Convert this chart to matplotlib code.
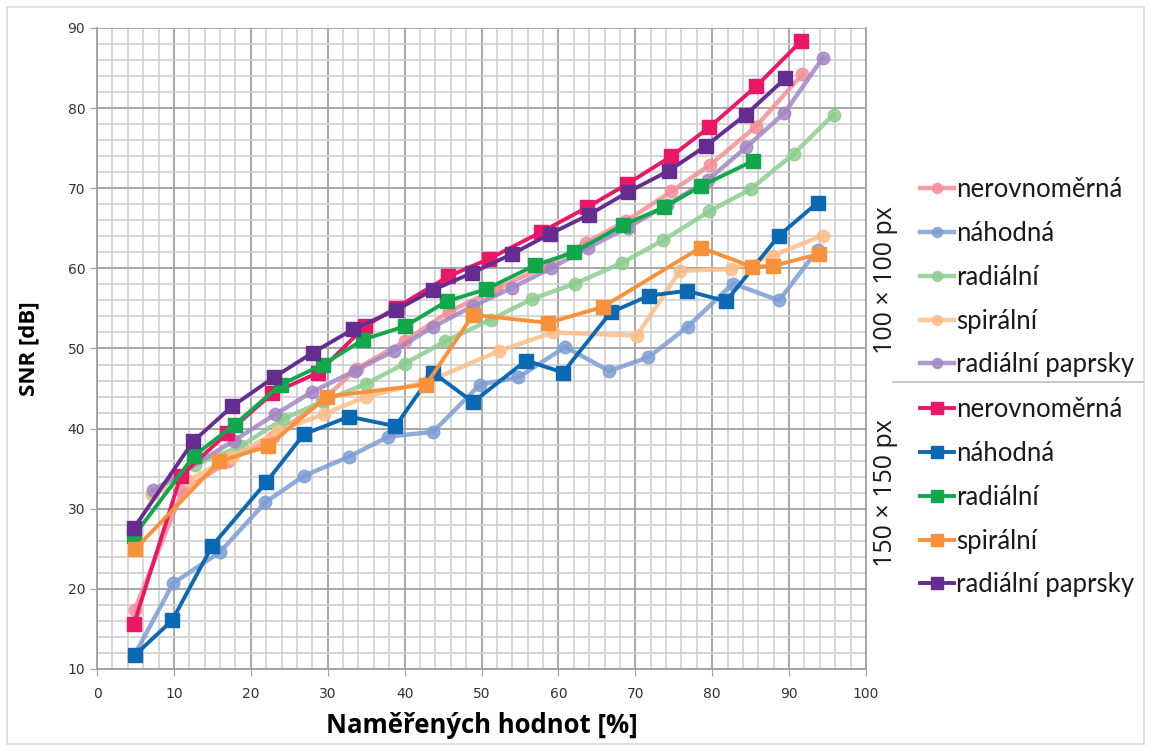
import matplotlib
matplotlib.use("Agg")
import matplotlib.pyplot as plt
from matplotlib.lines import Line2D
from matplotlib.patches import Rectangle
from matplotlib.ticker import MultipleLocator

# ---- 100 x 100 px (circles) ----
x100_nerov = [4.9, 11.1, 17.1, 22.9, 29.3, 33.8, 40.0, 45.8, 51.9, 58.3, 63.6, 68.8, 74.7, 79.7, 85.7, 91.7]
y100_nerov = [17.4, 32.2, 35.9, 39.0, 43.5, 47.5, 50.9, 54.6, 57.4, 60.3, 63.2, 65.9, 69.6, 72.9, 77.7, 84.2]

x100_nahod = [4.9, 9.9, 16.0, 21.9, 26.9, 32.8, 37.9, 43.7, 49.8, 54.8, 60.9, 66.6, 71.7, 76.8, 82.7, 88.7, 93.7]
y100_nahod = [11.8, 20.7, 24.6, 30.8, 34.1, 36.5, 39.0, 39.6, 45.5, 46.4, 50.2, 47.2, 48.9, 52.7, 58.1, 56.0, 62.3]

x100_radial = [7.2, 12.8, 18.7, 24.2, 29.4, 35.0, 40.0, 45.3, 51.2, 56.6, 62.2, 68.3, 73.6, 79.6, 85.0, 90.6, 95.8]
y100_radial = [31.9, 35.5, 37.8, 41.2, 43.4, 45.6, 48.1, 50.9, 53.6, 56.2, 58.1, 60.7, 63.5, 67.1, 69.9, 74.3, 79.2]

x100_spiral = [7.2, 11.8, 17.5, 23.6, 29.5, 35.0, 43.1, 52.3, 59.3, 70.2, 75.8, 82.4, 87.9, 94.4]
y100_spiral = [31.8, 33.5, 36.5, 39.7, 41.8, 44.0, 45.9, 49.7, 52.0, 51.6, 59.7, 59.9, 61.6, 64.1]

x100_paprsky = [7.3, 17.8, 23.2, 28.0, 33.5, 38.6, 43.7, 48.9, 54.0, 59.0, 63.9, 69.0, 74.1, 79.4, 84.4, 89.4, 94.4]
y100_paprsky = [32.3, 38.5, 41.8, 44.6, 47.2, 49.7, 52.7, 55.3, 57.6, 60.0, 62.6, 65.1, 67.9, 71.0, 75.1, 79.4, 86.3]

# ---- 150 x 150 px (squares) ----
x150_nerov = [4.8, 10.9, 16.9, 22.8, 28.8, 34.9, 38.9, 45.7, 51.0, 57.7, 63.7, 68.9, 74.7, 79.6, 85.7, 91.6]
y150_nerov = [15.6, 34.1, 39.4, 44.4, 47.0, 52.8, 55.1, 59.0, 61.2, 64.5, 67.6, 70.5, 74.0, 77.6, 82.7, 88.4]

x150_nahod = [4.9, 9.8, 15.0, 22.0, 26.9, 32.8, 38.8, 43.7, 48.9, 55.8, 60.6, 66.8, 71.8, 76.7, 81.8, 88.7, 93.7]
y150_nahod = [11.7, 16.1, 25.4, 33.3, 39.3, 41.5, 40.3, 47.0, 43.3, 48.5, 47.0, 54.5, 56.6, 57.2, 55.9, 64.1, 68.2]

x150_radial = [4.8, 12.6, 17.9, 23.9, 29.4, 34.6, 40.1, 45.5, 50.6, 57.0, 62.0, 68.4, 73.7, 78.6, 85.3]
y150_radial = [26.6, 36.6, 40.5, 45.5, 48.0, 51.1, 52.8, 55.9, 57.4, 60.4, 62.0, 65.4, 67.6, 70.3, 73.4]

x150_spiral = [5.0, 15.9, 22.2, 29.9, 42.8, 48.9, 58.7, 65.8, 78.5, 85.2, 87.9, 93.9]
y150_spiral = [25.0, 35.9, 37.8, 44.0, 45.5, 54.2, 53.2, 55.2, 62.6, 60.2, 60.3, 61.8]

x150_paprsky = [4.8, 12.5, 17.6, 23.0, 28.1, 33.3, 38.9, 43.7, 48.7, 54.0, 58.9, 64.0, 69.0, 74.4, 79.2, 84.4, 89.5]
y150_paprsky = [27.6, 38.4, 42.8, 46.4, 49.5, 52.4, 54.8, 57.3, 59.4, 61.8, 64.3, 66.7, 69.5, 72.2, 75.3, 79.2, 83.7]

labels = ["nerovnoměrná", "náhodná", "radiální", "spirální", "radiální paprsky"]
colors_100 = ["#F48F98", "#7E9ED4", "#8CCD8E", "#FCBE8A", "#A287C4"]
colors_150 = ["#EC1667", "#0B69B4", "#12A74A", "#F7923A", "#662D91"]

series_100 = [(x100_nerov, y100_nerov), (x100_nahod, y100_nahod), (x100_radial, y100_radial),
              (x100_spiral, y100_spiral), (x100_paprsky, y100_paprsky)]
series_150 = [(x150_nerov, y150_nerov), (x150_nahod, y150_nahod), (x150_radial, y150_radial),
              (x150_spiral, y150_spiral), (x150_paprsky, y150_paprsky)]

W, H = 1151, 751
fig = plt.figure(figsize=(W / 100, H / 100), dpi=100)
ax = fig.add_axes([97 / W, 1 - 669 / H, (866 - 97) / W, (669 - 28) / H])

h100, h150 = [], []
for (xs, ys), c in zip(series_100, colors_100):
    ln, = ax.plot(xs, ys, color=c, lw=3.2, marker="o", ms=9, mec=c, mfc=c, alpha=0.85, zorder=3)
    h100.append(ln)
for (xs, ys), c in zip(series_150, colors_150):
    ln, = ax.plot(xs, ys, color=c, lw=2.8, marker="s", ms=10, mec=c, mfc=c, zorder=4)
    h150.append(ln)

ax.set_xlim(0, 100)
ax.set_ylim(10, 90)
ax.xaxis.set_major_locator(MultipleLocator(10))
ax.yaxis.set_major_locator(MultipleLocator(10))
ax.xaxis.set_minor_locator(MultipleLocator(2))
ax.yaxis.set_minor_locator(MultipleLocator(2))
ax.grid(True, which="major", color="#A0A0A0", lw=1.3, zorder=0)
ax.grid(True, which="minor", color="#CFCFCF", lw=1.2, zorder=0)
ax.set_axisbelow(True)
ax.spines["top"].set_visible(False)
for s in ["left", "bottom", "right"]:
    ax.spines[s].set_color("#A0A0A0")
    ax.spines[s].set_linewidth(1.3)
ax.tick_params(which="major", length=5, color="#A0A0A0", labelsize=10, labelcolor="#333333")
ax.tick_params(which="minor", length=0)
ax.tick_params(axis="x", pad=8)

ax.set_xlabel("Naměřených hodnot [%]", labelpad=8, fontsize=18.5, fontweight="bold",
              family=["Liberation Sans Narrow", "Open Sans"])
ax.set_ylabel("SNR [dB]", labelpad=20, fontsize=16, fontweight="bold",
              family=["Liberation Sans Narrow", "Open Sans"])

# legends for the two resolutions
leg_kw = dict(frameon=False, handlelength=1.3, handletextpad=0.1, markerscale=0.8,
              labelspacing=0.73, borderaxespad=0, prop={"family": ["Lato", "Open Sans"], "size": 18.5})
leg1 = fig.legend(h100, labels, loc="upper left", bbox_to_anchor=(910 / W, 1 - 167 / H), **leg_kw)
leg2 = fig.legend(h150, labels, loc="upper left", bbox_to_anchor=(910 / W, 1 - 387 / H), **leg_kw)
for leg in (leg1, leg2):
    for t in leg.get_texts():
        t.set_color("#1A1A1A")

fig.add_artist(Line2D([893 / W, 1143 / W], [1 - 382 / H, 1 - 382 / H], color="#BFBFBF", lw=1.2))
fig.text(886 / W, 1 - 280 / H, "100 × 100 px", rotation=90, ha="center", va="center",
         fontsize=18, family="Open Sans", color="#1A1A1A")
fig.text(886 / W, 1 - 493 / H, "150 × 150 px", rotation=90, ha="center", va="center",
         fontsize=18, family="Open Sans", color="#1A1A1A")

# outer frame
fig.add_artist(Rectangle((7 / W, 7 / H), 1 - 14 / W, 1 - 14 / H, fill=False,
                         edgecolor="#D9D9D9", lw=1.2, transform=fig.transFigure))

fig.savefig("out.png", dpi=100)
